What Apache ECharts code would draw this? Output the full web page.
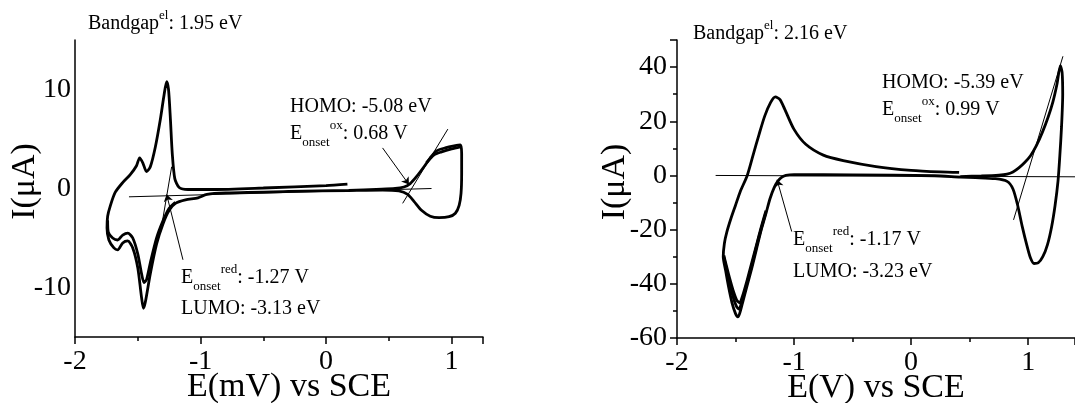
<!DOCTYPE html>
<html>
<head>
<meta charset="utf-8">
<script src="https://cdn.jsdelivr.net/npm/echarts@6/dist/echarts.min.js"></script>
<style>
  html, body { margin: 0; padding: 0; background: #fff; }
  #cv { width: 1075px; height: 403px; }
</style>
</head>
<body>
<div id="cv"></div>
<script>
// ---- left voltammogram, [E (V), I (uA)] ----
const leftCycle1 = [
  [0.18,-0.2],[0.40,-0.08],[0.55,0.0],[0.62,0.15],[0.67,0.5],[0.72,1.2],[0.78,2.2],[0.83,3.1],[0.88,3.8],[0.95,4.1],[1.02,4.3],[1.07,4.4],
  [1.08,3.5],[1.08,1.5],[1.075,-0.5],[1.06,-1.7],[1.03,-2.5],[0.98,-2.85],[0.90,-2.95],[0.83,-2.8],[0.76,-2.2],[0.70,-1.3],[0.65,-0.6],[0.58,-0.25],[0.45,-0.15],[0.18,-0.2],
  [-0.3,-0.3],[-0.8,-0.45],[-0.95,-0.6],[-1.02,-0.95],[-1.12,-1.15],[-1.20,-1.5],[-1.25,-2.2],[-1.30,-3.6],[-1.35,-5.6],[-1.40,-8.6],[-1.44,-11.5],[-1.455,-12.1],[-1.47,-11.0],[-1.50,-8.0],[-1.54,-6.0],[-1.58,-5.3],[-1.62,-5.5],[-1.66,-6.2],[-1.69,-6.0],[-1.73,-5.2],[-1.745,-4.0],
  [-1.74,-2.8],[-1.72,-1.8],[-1.68,-0.4],[-1.62,0.6],[-1.56,1.4],[-1.51,2.3],[-1.485,3.1],[-1.46,2.6],[-1.43,1.7],[-1.40,2.2],[-1.36,4.2],[-1.32,7.0],[-1.29,9.5],[-1.27,10.8],[-1.255,10.0],[-1.24,7.0],[-1.225,3.5],[-1.205,1.0],[-1.17,0.1],[-1.1,-0.1],[-0.9,-0.1],[-0.5,0.05],[0.0,0.3],[0.17,0.45]
];
const leftCycle2 = [
  [-1.20,-1.4],[-1.25,-2.0],[-1.30,-3.3],[-1.35,-5.0],[-1.40,-7.5],[-1.43,-9.2],[-1.45,-9.5],[-1.47,-8.6],[-1.50,-6.6],[-1.54,-5.0],[-1.58,-4.5],[-1.62,-4.7],[-1.66,-5.2],[-1.70,-5.0],[-1.735,-4.4],[-1.74,-3.2]
];
const leftCycle2Ox = [[0.80,2.6],[0.86,3.4],[0.92,3.7],[1.0,4.0],[1.07,4.2]];
const leftBaseline = [[-1.57,-0.84],[0.84,0.0]];
const leftRedTangent = [[-1.23,2.2],[-1.31,-3.8]];
const leftOxTangent = [[0.97,6.0],[0.61,-1.5]];
const leftRedPointer = [[-1.14,-7.2],[-1.27,-0.6]];
const leftOxPointer = [[0.45,4.1],[0.66,0.4]];

// ---- right voltammogram ----
const rightCycle1 = [
  [0.42,-0.4],[0.60,-0.2],[0.75,0.1],[0.82,0.5],[0.87,1.3],[0.92,2.8],[0.97,4.8],[1.02,7.3],[1.07,11],[1.12,15.8],[1.17,21.5],[1.21,27],[1.245,33.5],[1.275,40.5],[1.29,38],[1.295,30],[1.285,18],[1.27,7],[1.255,-2],[1.23,-11],[1.2,-19],[1.165,-25.5],[1.125,-30],[1.085,-32.3],[1.05,-32.5],[1.02,-30.5],[0.99,-26],[0.95,-19],[0.91,-11],[0.87,-5],[0.82,-2.2],[0.72,-1.2],[0.55,-0.8],[0.42,-0.6],
  [0.2,-0.1],[-0.5,0.2],[-1.0,0.3],[-1.07,0.0],[-1.11,-0.8],[-1.14,-2.2],[-1.17,-4.5],[-1.205,-8.5],[-1.24,-14],[-1.28,-20],[-1.32,-27],[-1.36,-34],[-1.40,-40.5],[-1.44,-47],[-1.465,-51],[-1.48,-52.2],[-1.50,-51],[-1.53,-47],[-1.56,-41],[-1.585,-35],[-1.605,-30],
  [-1.595,-25],[-1.575,-21],[-1.54,-16],[-1.50,-11],[-1.46,-6],[-1.40,0],[-1.35,7.5],[-1.30,15],[-1.25,22],[-1.20,27],[-1.16,29],[-1.12,28],[-1.08,24.5],[-1.0,17],[-0.9,11.5],[-0.75,7.5],[-0.58,5.5],[-0.3,3.3],[0.0,1.9],[0.25,1.3],[0.41,1.1]
];
const rightCycle2 = [
  [-1.24,-13.5],[-1.28,-19.5],[-1.32,-26],[-1.36,-33],[-1.40,-39.5],[-1.44,-45.5],[-1.47,-49.3],[-1.49,-48.5],[-1.52,-45],[-1.55,-39.5],[-1.58,-34],[-1.60,-30]
];
const rightCycle3 = [
  [-1.24,-13],[-1.28,-19],[-1.32,-25.5],[-1.36,-32],[-1.40,-38.5],[-1.44,-44.5],[-1.465,-47],[-1.49,-46],[-1.52,-42.5],[-1.55,-38],[-1.58,-33],[-1.60,-29.5]
];
const rightBaseline = [[-1.67,0.0],[1.40,-0.5]];
const rightOxTangent = [[1.297,44],[0.875,-16.4]];
const rightRedPointer = [[-1.02,-20.7],[-1.145,-1.6]];

const xTicksShown = [-2, -1, 0, 1];

const FONT = '"Liberation Serif", "Times New Roman", serif';
var myChart = echarts.init(document.getElementById('cv'));

function curve(data, idx, width, smooth) {
  return {
    type: 'line', data: data, xAxisIndex: idx, yAxisIndex: idx,
    symbol: 'none', smooth: smooth, silent: true,
    lineStyle: { color: '#000', width: width }
  };
}
function pointer(pts, idx) {
  return {
    type: 'line', data: [], xAxisIndex: idx, yAxisIndex: idx, silent: true,
    markLine: {
      silent: true, animation: false, symbol: ['none', 'arrow'], symbolSize: 7,
      label: { show: false },
      lineStyle: { color: '#000', width: 1, type: 'solid' },
      emphasis: { disabled: true },
      data: [[{ coord: pts[0] }, { coord: pts[1] }]]
    }
  };
}
function xAxis(idx, max, name, pad) {
  return {
    type: 'value', gridIndex: idx, min: -2, max: max, interval: 1,
    name: name, nameLocation: 'middle', nameGap: 33, nameMoveOverlap: false,
    nameTextStyle: { fontFamily: FONT, fontSize: 34, color: '#000', padding: pad },
    axisLine: { onZero: false, lineStyle: { color: '#000', width: 1.5 } },
    axisTick: { length: 7, lineStyle: { color: '#000', width: 1.5 } },
    minorTick: { show: true, splitNumber: 2, length: 4, lineStyle: { color: '#000', width: 1.5 } },
    axisLabel: {
      fontFamily: FONT, fontSize: 28, color: '#000', margin: 11, showMaxLabel: false,
      formatter: function (v) { return xTicksShown.indexOf(v) >= 0 ? String(v) : ''; }
    },
    splitLine: { show: false }
  };
}

const RICH = {
  n: { fontFamily: FONT, fontSize: 20, lineHeight: 30, fill: '#000', verticalAlign: 'middle' },
  sub: { fontFamily: FONT, fontSize: 13, lineHeight: 13, fill: '#000', verticalAlign: 'bottom' },
  sup: { fontFamily: FONT, fontSize: 13, lineHeight: 13, fill: '#000', verticalAlign: 'top' }
};
function note(x, y, text) {
  return {
    type: 'text', x: x, y: y, silent: true,
    style: { text: text, rich: RICH, fill: '#000', font: '20px ' + FONT, align: 'left', verticalAlign: 'middle' }
  };
}

const option = {
  animation: false,
  backgroundColor: '#fff',
  grid: [
    { left: 75, top: 40, width: 408, height: 297, outerBoundsMode: 'none', containLabel: false },
    { left: 677, top: 40, width: 398, height: 298, outerBoundsMode: 'none', containLabel: false }
  ],
  xAxis: [
    xAxis(0, 1.25, 'E(mV) vs SCE', [0, 0, 0, 20]),
    xAxis(1, 1.4, 'E(V) vs SCE', [0, 0, 0, 0])
  ],
  yAxis: [
    {
      type: 'value', gridIndex: 0, min: -15, max: 15, interval: 5,
      name: 'I(\u03bcA)', nameLocation: 'middle', nameGap: 33, nameMoveOverlap: false,
      nameTextStyle: { fontFamily: FONT, fontSize: 34, color: '#000', padding: [0, 0, 0, 14] },
      axisLine: { onZero: false, lineStyle: { color: '#000', width: 1.5 } },
      axisTick: { show: false },
      axisLabel: {
        fontFamily: FONT, fontSize: 28, color: '#000', margin: 4,
        formatter: function (v) { return v % 10 === 0 ? String(v) : ''; }
      },
      splitLine: { show: false }
    },
    {
      type: 'value', gridIndex: 1, min: -60, max: 50, interval: 20,
      name: 'I(\u03bcA)', nameLocation: 'middle', nameGap: 45, nameMoveOverlap: false,
      nameTextStyle: { fontFamily: FONT, fontSize: 34, color: '#000', padding: [0, 0, 0, 14] },
      axisLine: { onZero: false, lineStyle: { color: '#000', width: 1.5 } },
      axisTick: { length: 7, lineStyle: { color: '#000', width: 1.5 } },
      minorTick: { show: true, splitNumber: 2, length: 4, lineStyle: { color: '#000', width: 1.5 } },
      axisLabel: { fontFamily: FONT, fontSize: 28, color: '#000', margin: 10, showMaxLabel: false },
      splitLine: { show: false }
    }
  ],
  series: [
    curve(leftCycle1, 0, 2.8, 0.25),
    curve(leftCycle2, 0, 2.8, 0.25),
    curve(leftCycle2Ox, 0, 2.8, 0.25),
    curve(leftBaseline, 0, 1, false),
    curve(leftRedTangent, 0, 1, false),
    curve(leftOxTangent, 0, 1, false),
    pointer(leftRedPointer, 0),
    pointer(leftOxPointer, 0),
    curve(rightCycle1, 1, 2.8, 0.25),
    curve(rightCycle2, 1, 2.8, 0.25),
    curve(rightCycle3, 1, 2.8, 0.25),
    curve(rightBaseline, 1, 1, false),
    curve(rightOxTangent, 1, 1, false),
    pointer(rightRedPointer, 1)
  ],
  graphic: [
    note(88, 24, '{n|Bandgap}{sup|el}{n|: 1.95 eV}'),
    note(290, 107, '{n|HOMO: -5.08 eV}'),
    note(290, 134, '{n|E}{sub|onset}{sup|ox}{n|: 0.68 V}'),
    note(181, 278, '{n|E}{sub|onset}{sup|red}{n|: -1.27 V}'),
    note(181, 309, '{n|LUMO: -3.13 eV}'),
    note(693, 34, '{n|Bandgap}{sup|el}{n|: 2.16 eV}'),
    note(882, 83, '{n|HOMO: -5.39 eV}'),
    note(882, 110, '{n|E}{sub|onset}{sup|ox}{n|: 0.99 V}'),
    note(793, 240, '{n|E}{sub|onset}{sup|red}{n|: -1.17 V}'),
    note(793, 272, '{n|LUMO: -3.23 eV}')
  ]
};

myChart.setOption(option);
</script>
</body>
</html>
